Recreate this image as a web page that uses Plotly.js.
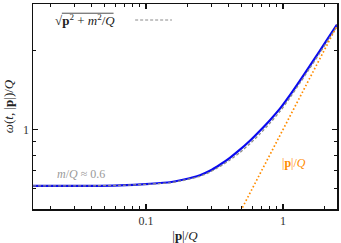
<!DOCTYPE html>
<html><head>
<script src="https://cdn.plot.ly/plotly-3.0.1.min.js"></script>
<style>body{margin:0;background:#fff}</style>
</head><body>
<div id="c" style="width:341px;height:243px"></div>
<script>
// momentum |p|/Q
const p = [0.015, 0.039, 0.0646, 0.1069, 0.1497, 0.1862, 0.2478, 0.293, 0.3468, 0.410, 0.4855, 0.574, 0.6795, 0.804, 0.9508, 1.125, 1.331, 1.575, 1.863, 2.148, 2.479];
// full dispersion omega(t,|p|)/Q (blue)
const omegaFull = [0.6123, 0.6123, 0.615, 0.6233, 0.6316, 0.6454, 0.6714, 0.698, 0.736, 0.782, 0.8395, 0.908, 0.9913, 1.087, 1.2018, 1.353, 1.536, 1.751, 1.997, 2.238, 2.507];
// free dispersion sqrt(p^2+m^2)/Q (gray dashed)
const omegaFree = [0.6123, 0.6123, 0.6145, 0.6217, 0.6288, 0.6414, 0.6655, 0.6901, 0.7252, 0.7671, 0.8199, 0.8845, 0.9639, 1.0588, 1.1727, 1.3226, 1.5041, 1.716, 1.959, 2.199, 2.463];
// massless line |p|/Q (orange dotted)
const pLine = [0.45, 2.6];
const omegaLine = [0.45, 2.6];

const xMinor = [0.02,0.03,0.04,0.05,0.06,0.07,0.08,0.09,0.2,0.3,0.4,0.5,0.6,0.7,0.8,0.9,2];
const xMajor = [0.1, 1];
const xMajorText = ['0.1', '1'];
const yMinor = [0.6,0.7,0.8,0.9,2];
const yMajor = [1];
const yMajorText = ['1'];

const FAM = "'Liberation Serif', 'Times New Roman', serif";
const font = {family: FAM, size: 12, color: '#222'};

const traces = [
  {x: p, y: omegaFull, mode: 'lines', line: {color: '#0a0af0', width: 2.2, shape: 'spline', smoothing: 0.6}, hoverinfo: 'skip'},
  {x: p, y: omegaFree, mode: 'lines', line: {color: '#8a8a8a', width: 1.3, dash: '3px,2px', shape: 'spline', smoothing: 0.6}, hoverinfo: 'skip'},
  {x: pLine, y: omegaLine, mode: 'lines', line: {color: '#ff8c00', width: 1.7, dash: '1.6px,2.2px'}, hoverinfo: 'skip'}
];

const axCommon = {
  type: 'log', showgrid: false, zeroline: false, showline: true, linecolor: '#111', linewidth: 1.5,
  mirror: 'allticks', ticks: 'inside', ticklen: 5, tickwidth: 1.2, tickcolor: '#111',
  tickfont: {family: FAM, size: 12, color: '#333'}
};

const layout = {
  width: 341, height: 243,
  margin: {l: 33, r: 4, t: 4, b: 34},
  paper_bgcolor: '#fff', plot_bgcolor: '#fff',
  showlegend: false, font: font,
  xaxis: Object.assign({}, axCommon, {
    range: [Math.log10(0.015), Math.log10(2.48)],
    tickmode: 'array', tickvals: xMajor, ticktext: xMajorText,
    minor: {tickmode: 'array', tickvals: xMinor, ticks: 'inside', ticklen: 3, tickwidth: 1.1, tickcolor: '#111'},
    title: {text: '|<b>p</b>|/<i>Q</i>', font: {family: FAM, size: 13, color: '#222'}, standoff: 4}
  }),
  yaxis: Object.assign({}, axCommon, {
    range: [Math.log10(0.5), Math.log10(3)],
    tickmode: 'array', tickvals: yMajor, ticktext: yMajorText,
    minor: {tickmode: 'array', tickvals: yMinor, ticks: 'inside', ticklen: 3, tickwidth: 1.1, tickcolor: '#111'},
    title: {text: '<i>ω</i>(<i>t</i>, |<b>p</b>|)/<i>Q</i>', font: {family: FAM, size: 13, color: '#222'}, standoff: 6}
  }),
  annotations: [
    {xref: 'paper', yref: 'paper', x: 0.065, y: 0.922, xanchor: 'left', yanchor: 'middle', showarrow: false,
     text: '√<b>p</b><sup>2</sup> + <i>m</i><sup>2</sup>/<i>Q</i>',
     font: {family: FAM, size: 13, color: '#222'}},
    {x: Math.log10(0.0336), y: Math.log10(0.679), showarrow: false,
     text: '<i>m</i>/<i>Q</i> ≈ 0.6', font: {family: FAM, size: 12, color: '#9a9a9a'}},
    {x: Math.log10(1.2), y: Math.log10(0.75), showarrow: false,
     text: '|<b>p</b>|/<i>Q</i>', font: {family: FAM, size: 12, color: '#ff8c00'}}
  ],
  shapes: [
    {type: 'line', xref: 'paper', yref: 'paper', x0: 0.095, x1: 0.265, y0: 0.955, y1: 0.955,
     line: {color: '#222', width: 0.8}},
    {type: 'line', xref: 'paper', yref: 'paper', x0: 0.336, x1: 0.457, y0: 0.922, y1: 0.922,
     line: {color: '#8a8a8a', width: 1.1, dash: '3px,2px'}}
  ]
};

Plotly.newPlot('c', traces, layout, {staticPlot: true, displayModeBar: false});
</script>
</body></html>
